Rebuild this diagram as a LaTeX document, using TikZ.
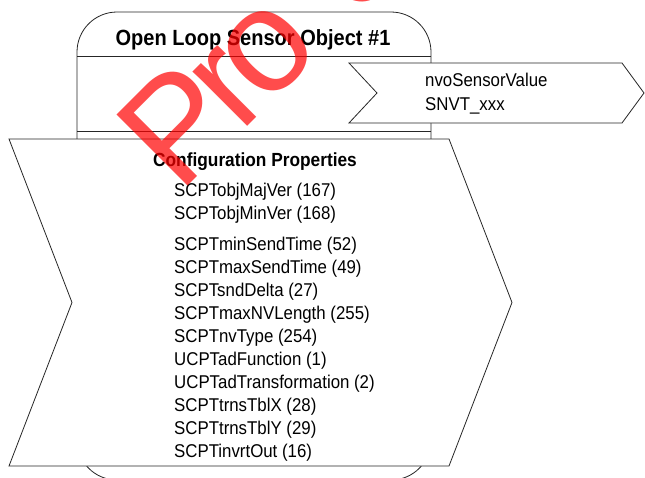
\documentclass[tikz,border=0pt]{standalone}
\usepackage{fontspec}
\setmainfont{Liberation Sans}[FakeStretch=0.91]
\newfontfamily\stampfont{Liberation Sans}
\usepackage{tikz}
\usetikzlibrary{calc}
\newcommand*{\chevron}[6]{\draw[edge,fill=white] (#1,#2) -- (#1+#3,#2)
    -- (#1+#3+#6,#2+#4/2) -- (#1+#3,#2+#4) -- (#1,#2+#4) -- (#1+#5,#2+#4/2) -- cycle;
}
\begin{document}
\begin{tikzpicture}[x=1pt,y=-1pt]
\tikzstyle{edge}=[line width=0.8pt,draw=black!85]
\tikzstyle{item}=[anchor=base west,inner sep=0pt,font=\fontsize{18.5}{22}\selectfont]
\tikzstyle{head}=[inner sep=0pt,font=\bfseries\fontsize{19}{22}\selectfont]
\useasboundingbox (0,0) rectangle (645,477);
\clip (0,0) rectangle (645,477);

% object body
\draw[edge,fill=white,rounded corners=40pt] (77,12) rectangle (431,480);
\node[head,anchor=base,font=\bfseries\fontsize{22}{24}\selectfont] (title) at (253,45) {Open Loop Sensor Object \#1};
\draw[edge] (77,56) -- (431,56);
\draw[edge] (77,131) -- (431,131);

% output network variable
\chevron{349}{63}{273}{60}{28}{22}
\node[item] (nvo) at (425,86) {nvoSensorValue};
\node[item] (snvt) at (425,110) {SNVT\_xxx};

% configuration properties
\chevron{9}{139}{440}{327}{63}{63}
\node[head,anchor=base west] (cfg) at (153,166) {Configuration Properties};
\node[item] (cp1) at (174,196) {SCPTobjMajVer (167)};
\node[item] (cp2) at (174,219) {SCPTobjMinVer (168)};
\node[item] (cp3) at (174,250) {SCPTminSendTime (52)};
\node[item] (cp4) at (174,273) {SCPTmaxSendTime (49)};
\node[item] (cp5) at (174,296) {SCPTsndDelta (27)};
\node[item] (cp6) at (174,319) {SCPTmaxNVLength (255)};
\node[item] (cp7) at (174,342) {SCPTnvType (254)};
\node[item] (cp8) at (174,365) {UCPTadFunction (1)};
\node[item] (cp9) at (174,388) {UCPTadTransformation (2)};
\node[item] (cp10) at (174,411) {SCPTtrnsTblX (28)};
\node[item] (cp11) at (174,434) {SCPTtrnsTblY (29)};
\node[item] (cp12) at (174,457) {SCPTinvrtOut (16)};

\node[anchor=base west,rotate=45,inner sep=0pt,text=red,opacity=0.7,
  font=\stampfont\fontsize{146}{146}\selectfont] (stamp) at (179,195) {P\kern-11pt r\kern-11pt o\kern44pt c};
\end{tikzpicture}
\end{document}
